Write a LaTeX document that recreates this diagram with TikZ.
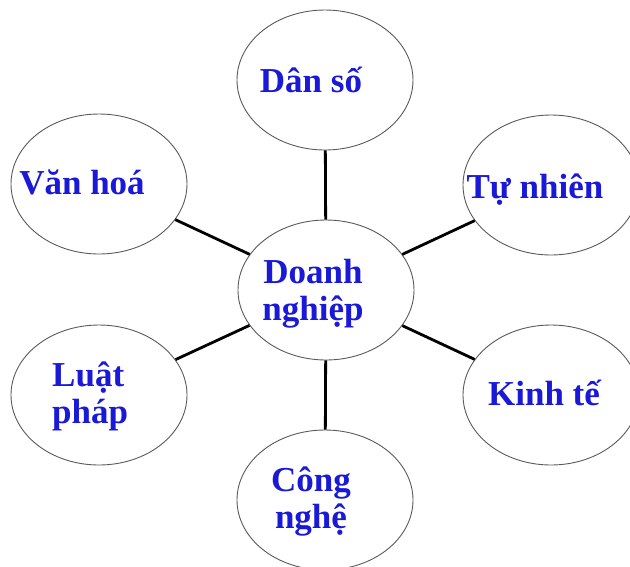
\documentclass[tikz,border=0pt]{standalone}
\usepackage{fontspec}
\setmainfont{Liberation Serif}
\usetikzlibrary{shapes.geometric}
\definecolor{txtblue}{RGB}{25,25,215}
\definecolor{rimgray}{RGB}{90,90,90}
\begin{document}
\begin{tikzpicture}[x=1pt,y=-1pt,
  bubble/.style={ellipse,draw=rimgray,line width=0.9pt,fill=white,minimum width=176pt,minimum height=140pt,inner sep=0pt},
  lbl/.style={text=txtblue,font=\fontsize{35}{37}\selectfont\bfseries,inner sep=0pt,anchor=base},
  link/.style={line width=2.8pt,black}]
\useasboundingbox (0,0) rectangle (630,566);
\node[bubble] (c) at (326,290) {};
\node[bubble] (ds) at (325,80) {};
\node[bubble] (vh) at (99,184) {};
\node[bubble] (tn) at (551,185) {};
\node[bubble] (lp) at (99,395) {};
\node[bubble] (kt) at (551,395) {};
\node[bubble] (cn) at (325,500) {};
\draw[link] (c) -- (ds);
\draw[link] (c) -- (vh);
\draw[link] (c) -- (tn);
\draw[link] (c) -- (lp);
\draw[link] (c) -- (kt);
\draw[link] (c) -- (cn);
\node[lbl] (tds) at (311,92) {Dân số};
\node[lbl] (tvh) at (82,194) {Văn hoá};
\node[lbl] (ttn) at (535,198) {Tự nhiên};
\node[lbl,align=center] (tc) at (313,320) {Doanh\\nghiệp};
\node[lbl,align=left,anchor=base west] (tlp) at (52,423) {Luật\\pháp};
\node[lbl] (tkt) at (544,405) {Kinh tế};
\node[lbl,align=center] (tcn) at (311,528) {Công\\nghệ};
\end{tikzpicture}
\end{document}
